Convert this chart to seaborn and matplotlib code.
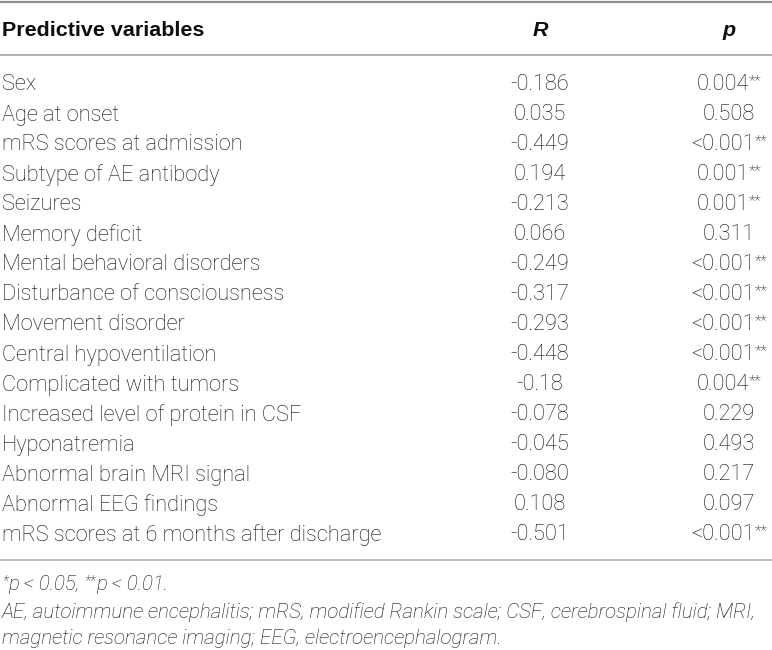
import matplotlib
matplotlib.use("Agg")
import matplotlib.pyplot as plt
import seaborn as sns

# ---------------- data ----------------
headers = ["Predictive variables", "R", "p"]
variables = [
    "Sex",
    "Age at onset",
    "mRS scores at admission",
    "Subtype of AE antibody",
    "Seizures",
    "Memory deficit",
    "Mental behavioral disorders",
    "Disturbance of consciousness",
    "Movement disorder",
    "Central hypoventilation",
    "Complicated with tumors",
    "Increased level of protein in CSF",
    "Hyponatremia",
    "Abnormal brain MRI signal",
    "Abnormal EEG findings",
    "mRS scores at 6 months after discharge",
]
r_values = ["-0.186", "0.035", "-0.449", "0.194", "-0.213", "0.066", "-0.249",
            "-0.317", "-0.293", "-0.448", "-0.18", "-0.078", "-0.045", "-0.080",
            "0.108", "-0.501"]
p_values = ["0.004", "0.508", "<0.001", "0.001", "0.001", "0.311", "<0.001",
            "<0.001", "<0.001", "<0.001", "0.004", "0.229", "0.493", "0.217",
            "0.097", "<0.001"]
p_stars = ["**", "", "**", "**", "**", "", "**", "**", "**", "**", "**", "",
           "", "", "", "**"]
footnote_sig = [("*", True), ("p < 0.05, ", False), ("**", True), ("p < 0.01.", False)]
footnote_abbrev = [
    "AE, autoimmune encephalitis; mRS, modified Rankin scale; CSF, cerebrospinal fluid; MRI,",
    "magnetic resonance imaging; EEG, electroencephalogram.",
]

# ---------------- style ----------------
sns.set_theme(style="white")
plt.rcParams['font.family'] = ['Roboto', 'Liberation Sans', 'DejaVu Sans']

W, H = 772, 650
fig = plt.figure(figsize=(W / 100, H / 100), dpi=100)
ax = fig.add_axes([0, 0, 1, 1])
ax.set_xlim(0, W)
ax.set_ylim(H, 0)
ax.axis('off')
renderer = fig.canvas.get_renderer()

TXT = "#0d0d0d"
RULE = "#8f8f8f"
BODY_KW = dict(family=['Roboto', 'Liberation Sans'], fontweight='light')
HEAD_KW = dict(family=['Liberation Sans', 'DejaVu Sans'], fontweight='bold')
FOOT_KW = dict(family=['Roboto', 'Liberation Sans'], fontweight='light', style='italic')


def text_width(s, size, **kw):
    t = ax.text(0, 0, s, fontsize=size, **kw)
    w = t.get_window_extent(renderer=renderer).width
    t.remove()
    return w


def fit(s, target, **kw):
    w = text_width(s, 15, **kw)
    return 15 * target / w


body = fit(variables[-1], 381, **BODY_KW)
head = fit(headers[0], 203, **HEAD_KW)
foot = fit(footnote_abbrev[0], 756, **FOOT_KW)
star = body * 0.7

# ---------------- rules ----------------
ax.hlines(1.5, 0, W, color=RULE, lw=1.6)
ax.hlines(55, 0, W, color="#9c9c9c", lw=1.1)
ax.hlines(560, 0, W, color="#a5a5a5", lw=1.1)

X_LABEL, X_R, X_P = 2, 540, 729

# ---------------- header ----------------
ax.text(X_LABEL, 36, headers[0], fontsize=head, color=TXT,
        ha='left', va='baseline', **HEAD_KW)
ax.text(X_R, 36, headers[1], fontsize=head, style='italic',
        color=TXT, ha='center', va='baseline', **HEAD_KW)
ax.text(X_P, 36, headers[2], fontsize=head, style='italic',
        color=TXT, ha='center', va='baseline', **HEAD_KW)

# ---------------- body ----------------
y0, dy = 90.5, 30
for i, (v, r, p, s) in enumerate(zip(variables, r_values, p_values, p_stars)):
    y = y0 + i * dy
    ax.text(X_LABEL, y, v, fontsize=body, color=TXT, ha='left', va='baseline', **BODY_KW)
    ax.text(X_R, y, r, fontsize=body, color=TXT, ha='center', va='baseline', **BODY_KW)
    wp = text_width(p, body, **BODY_KW)
    ws = text_width(s, star, **BODY_KW) if s else 0
    left = X_P - (wp + ws) / 2
    ax.text(left, y, p, fontsize=body, color=TXT, ha='left', va='baseline', **BODY_KW)
    if s:
        ax.text(left + wp + 0.5, y - 5, s, fontsize=star, color=TXT,
                ha='left', va='baseline', **BODY_KW)

# ---------------- footnotes ----------------
x = X_LABEL
yf = 589.5
for seg, sup in footnote_sig:
    if sup:
        ax.text(x, yf - 4.5, seg, fontsize=foot * 0.7, color=TXT,
                ha='left', va='baseline', **FOOT_KW)
        x += text_width(seg, foot * 0.7, **FOOT_KW)
    else:
        ax.text(x, yf, seg, fontsize=foot, color=TXT,
                ha='left', va='baseline', **FOOT_KW)
        x += text_width(seg, foot, **FOOT_KW)

for k, line in enumerate(footnote_abbrev):
    ax.text(X_LABEL, 617.5 + k * 26.5, line, fontsize=foot,
            color=TXT, ha='left', va='baseline', **FOOT_KW)

fig.savefig("out.png", dpi=100)
